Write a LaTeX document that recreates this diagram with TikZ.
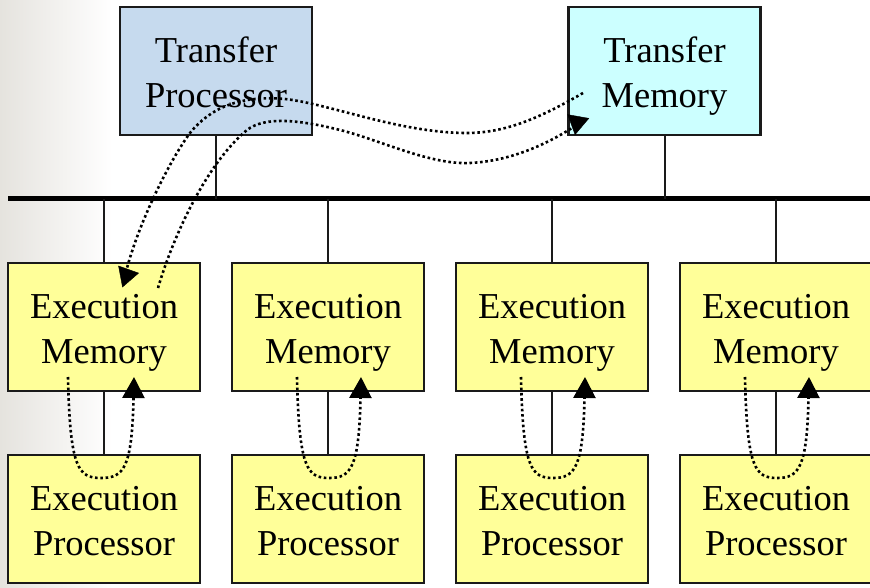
\documentclass[tikz,border=0pt]{standalone}
\usepackage{fontspec}
\setmainfont{Liberation Serif}
\usetikzlibrary{arrows.meta,calc}

\definecolor{tpblue}{RGB}{198,218,238}
\definecolor{tmcyan}{RGB}{204,255,255}
\definecolor{unityellow}{RGB}{255,255,153}
\definecolor{edge}{RGB}{26,26,26}
\definecolor{shadegrey}{RGB}{229,227,222}

% fixed line struts so every two-line label sits at the same height
\newcommand\firstlinestrut{\rule{0pt}{37pt}}
\newcommand\lastlinestrut{\rule[-9pt]{0pt}{9pt}}
\newcommand\twolines[2]{\firstlinestrut#1\\#2\lastlinestrut}

\begin{document}
\begin{tikzpicture}[x=1pt,y=-1pt,
  unitbox/.style={draw=edge, line width=2.2pt, minimum width=192pt,
    minimum height=128pt, inner sep=0pt, align=center,
    font=\fontsize{36.5}{45}\selectfont},
  wire/.style={draw=edge, line width=2pt},
  busline/.style={draw=black, line width=5pt},
  dotflow/.style={black, line width=2.6pt, dash pattern=on 2.6pt off 2.7pt},
  headtip/.style={-{Triangle[length=19pt,width=22pt]}, line width=0.4pt, black},
]
\useasboundingbox (0,0) rectangle (870,588);
\fill[white] (0,0) rectangle (870,588);
\shade[left color=shadegrey, right color=white] (0,0) rectangle (112,588);
\clip (0,0) rectangle (870,588);

% transfer units
\node[unitbox, fill=tpblue] (tp) at (216,71) {\twolines{Transfer}{Processor}};
\node[unitbox, fill=tmcyan] (tm) at (664.5,71) {\twolines{Transfer}{Memory}};

% system bus
\coordinate (busL) at (8,199);
\coordinate (busR) at (876,199);
\draw[busline] (busL) -- (busR);
\draw[wire] (tp.south) -- (tp.south |- busL);
\draw[wire] (tm.south) -- (tm.south |- busL);

% execution units with local memory/processor exchange
\foreach \i/\cx/\sx/\tx in {1/104/68/134, 2/328/297/361, 3/552/521/585, 4/776/745/809}{
  \node[unitbox, fill=unityellow] (em\i) at (\cx,327) {\twolines{Execution}{Memory}};
  \node[unitbox, fill=unityellow] (ep\i) at (\cx,519) {\twolines{Execution}{Processor}};
  \draw[wire] (em\i.north) -- (em\i.north |- busL);
  \draw[wire] (em\i.south) -- (ep\i.north);
  \coordinate (ls\i) at (\sx,377);
  \coordinate (lt\i) at (\tx,377);
  \draw[dotflow, -{Triangle[length=21pt,width=22pt]}]
    (ls\i) .. controls ($(ls\i)+(2,91)$) and ($(ls\i)+(10,101)$)
    .. ($(ls\i)!0.5!(lt\i)+(0,101)$)
    .. controls ($(lt\i)+(-10,101)$) and ($(lt\i)+(-2,91)$) .. (lt\i);
}

% transfer memory -> execution memory 1
\coordinate (aStart) at (583,93);
\coordinate (aEnd) at (127,268);
\draw[dotflow] (aStart) .. controls (540,118) and (505,133) .. (467,133)
  .. controls (400,133) and (330,104) .. (285,99)
  .. controls (240,95) and (210,108) .. (190,133)
  .. controls (170,160) and (140,220) .. (aEnd);
\coordinate (aBase) at (120.33,276.53);
\coordinate (aTip) at (139,273);
\draw[headtip] (aBase) -- (aTip);

% execution memory 1 -> transfer memory
\coordinate (bStart) at (158,288);
\coordinate (bEnd) at (572,128);
\draw[dotflow] (bStart) .. controls (172,240) and (205,165) .. (247,130)
  .. controls (265,116) and (300,120) .. (340,130)
  .. controls (380,140) and (430,165) .. (470,163)
  .. controls (510,161) and (545,145) .. (bEnd);
\coordinate (bBase) at (578.3,116.3);
\coordinate (bTip) at (575,135);
\draw[headtip] (bBase) -- (bTip);
\end{tikzpicture}
\end{document}
